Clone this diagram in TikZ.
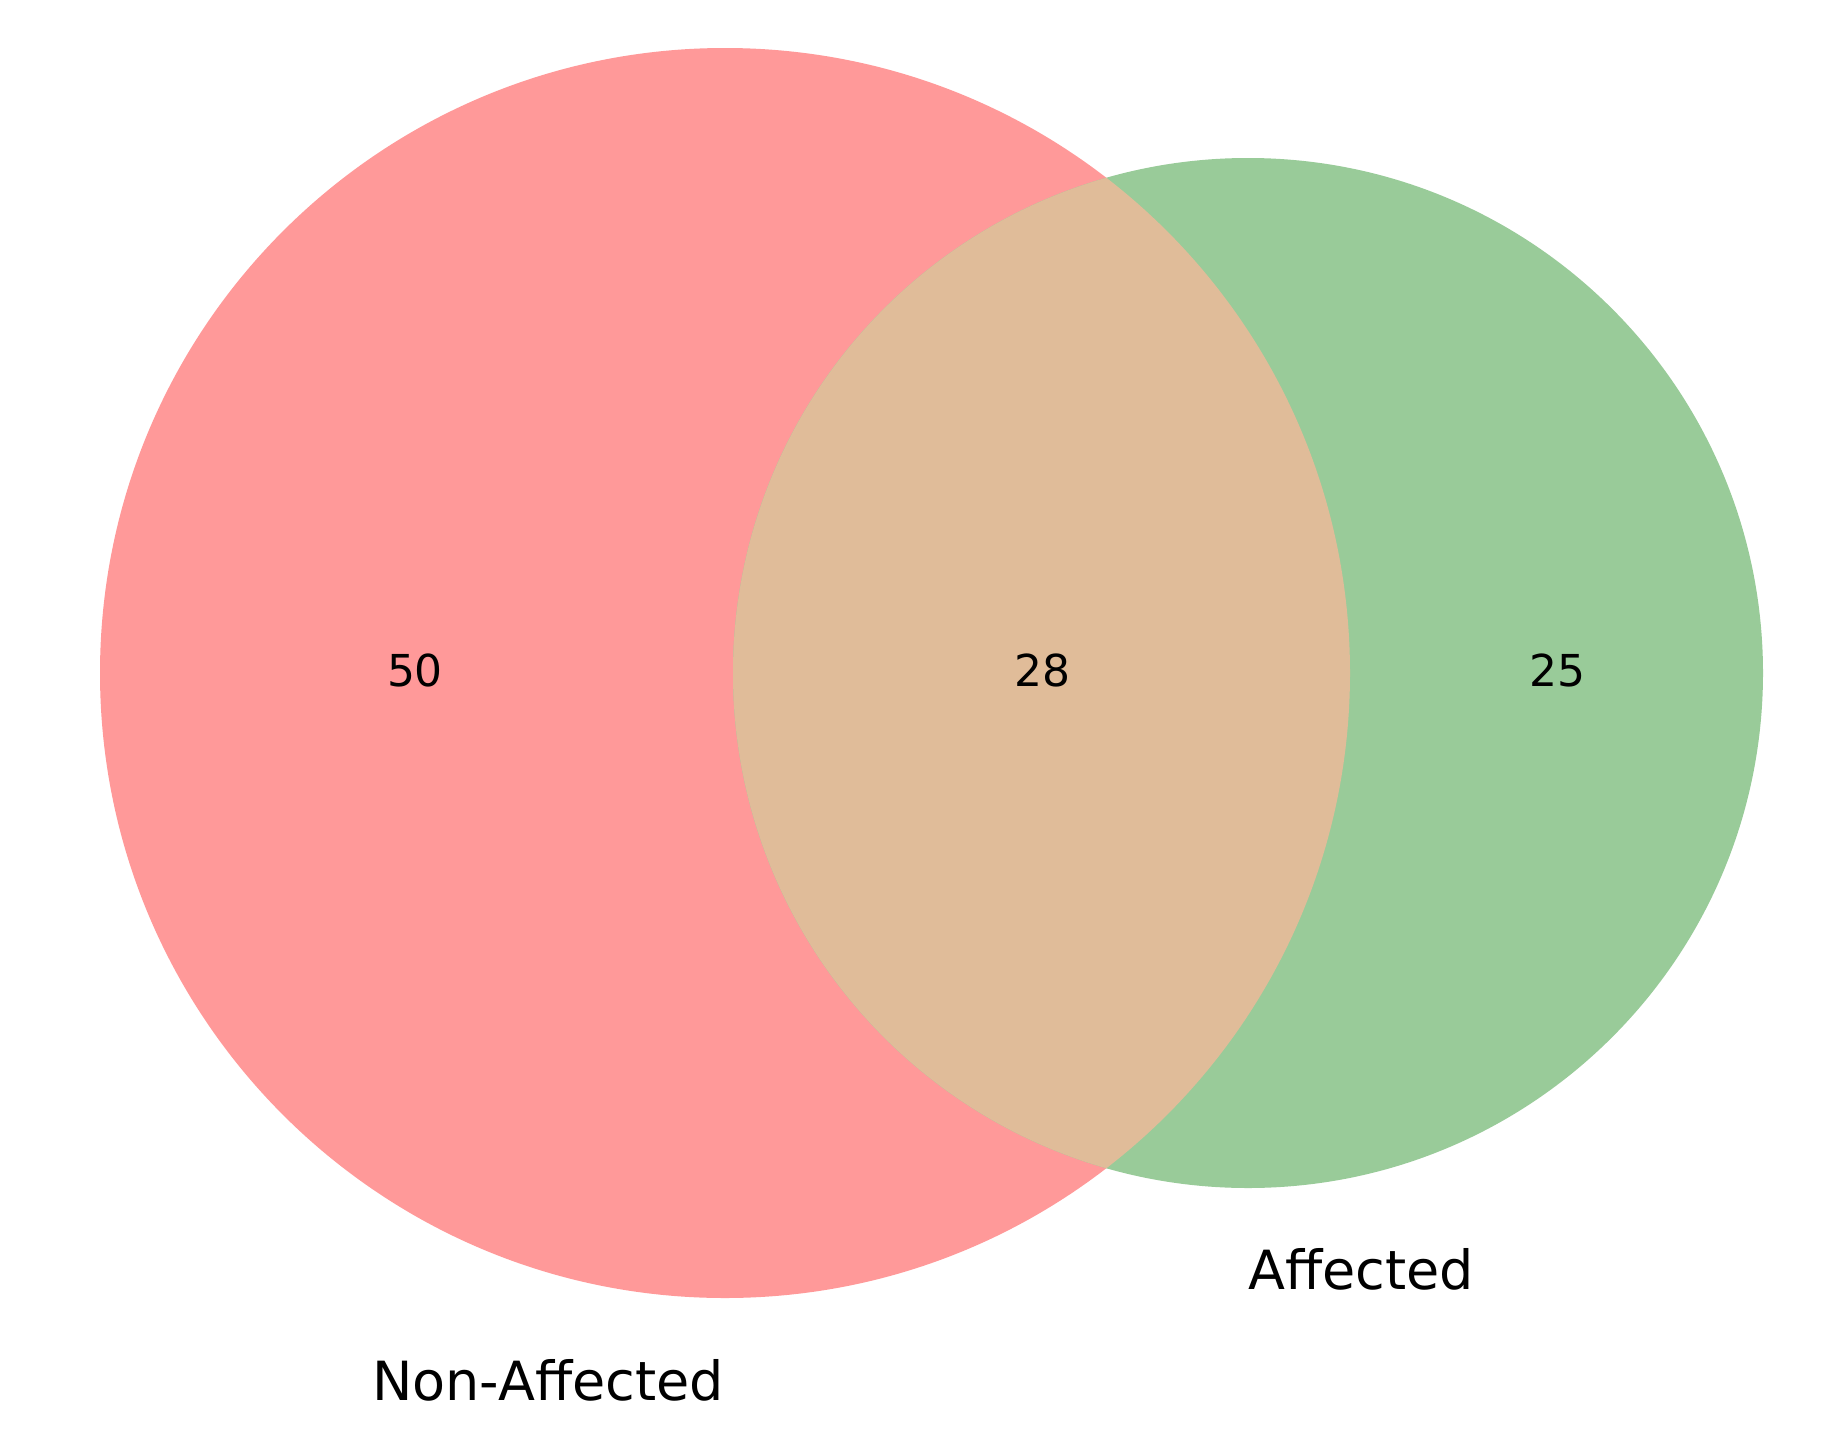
\documentclass[tikz,border=0pt]{standalone}
\usepackage{fontspec}
\setmainfont{DejaVu Sans}
\definecolor{setA}{RGB}{255,153,153}
\definecolor{setB}{RGB}{153,203,153}
\definecolor{setAB}{RGB}{224,188,153}
\begin{document}
\begin{tikzpicture}[x=1pt,y=-1pt,
  numlabel/.style={font=\fontsize{44}{52}\selectfont, anchor=base, inner sep=0pt},
  setlabel/.style={font=\fontsize{54}{64}\selectfont, anchor=base, inner sep=0pt}]
\useasboundingbox (0,0) rectangle (1840,1446);
\fill[white] (0,0) rectangle (1840,1446);
\fill[setA] (725,673) circle[radius=625];
\fill[setB] (1248,673) circle[radius=515];
\begin{scope}
  \clip (725,673) circle[radius=625];
  \fill[setAB] (1248,673) circle[radius=515];
\end{scope}
\node[numlabel] (n50) at (415,686) {50};
\node[numlabel] (n28) at (1042,686) {28};
\node[numlabel] (n25) at (1557,686) {25};
\node[setlabel] (lA) at (1361,1289) {Affected};
\node[setlabel] (lN) at (548,1400) {Non-Affected};
\end{tikzpicture}
\end{document}
